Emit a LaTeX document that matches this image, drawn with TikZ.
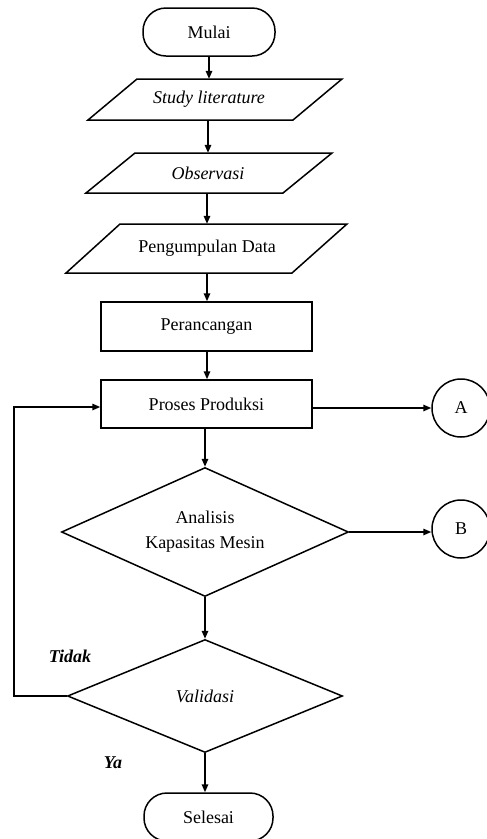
\documentclass[tikz,border=0pt]{standalone}
\usepackage{fontspec}
\setmainfont{Liberation Serif}
\usetikzlibrary{shapes.geometric,arrows.meta}
\begin{document}
\begin{tikzpicture}[x=1pt,y=-1pt,
  every node/.style={font=\fontsize{18}{21}\selectfont, inner sep=0pt},
  arr/.style={line width=1.5pt,-{Triangle[length=8pt,width=6.5pt]}},
  term/.style={draw,line width=1.5pt,rounded corners=23pt,minimum width=#1,minimum height=48pt},
  procbox/.style={draw,line width=1.5pt,minimum width=211pt,minimum height=48pt},
  ghost/.style={draw=none,minimum width=150pt,minimum height=#1},
  para/.style={line width=1.5pt},
  dec/.style={draw,diamond,aspect=2.3,line width=1.5pt},
  conn/.style={draw,circle,line width=1.5pt,minimum size=58pt},
  lab/.style={font=\fontsize{18}{21}\selectfont\bfseries\itshape}
]
\useasboundingbox (0,0) rectangle (487,839);
% terminator start
\node[term=132pt] (mulai) at (209,32) {Mulai};
% parallelograms
\draw[para] (137,79) -- (342,79) -- (293,120) -- (88,120) -- cycle;
\node[ghost=41pt] (study) at (209,99.5) {\itshape Study literature};
\draw[para] (135,153) -- (332,153) -- (283,193) -- (86,193) -- cycle;
\node[ghost=40pt] (obs) at (208,173) {\itshape Observasi};
\draw[para] (120,224) -- (347,224) -- (292,273) -- (66,273) -- cycle;
\node[ghost=49pt] (peng) at (207,248.5) {Pengumpulan Data};
% boxes
\node[procbox,minimum height=49pt] (peran) at (206.5,326.5) {Perancangan};
\node[procbox] (proses) at (206.5,404) {Proses Produksi};
\node[conn] (A) at (461,408) {A};
% decisions
\node[dec,minimum width=287pt,minimum height=129pt,align=center,font=\fontsize{18}{25}\selectfont] (anal) at (205,532) {Analisis\\Kapasitas Mesin};
\node[conn] (B) at (461,529) {B};
\node[dec,minimum width=275pt,minimum height=113pt] (valid) at (205,696) {\itshape Validasi};
\node[term=129pt] (selesai) at (208.5,817) {Selesai};
% labels
\node[lab] (tidak) at (70,656) {Tidak};
\node[lab] (ya) at (113,763) {Ya};
% connectors
\coordinate (loopTop) at (14,407);
\coordinate (perBot) at (207,351);
\draw[arr] (mulai.south) -- (mulai.south |- study.north);
\draw[arr] (study.south -| obs.north) -- (obs.north);
\draw[arr] (obs.south -| peng.north) -- (peng.north);
\draw[arr] (peng.south) -- (peng.south |- peran.north);
\draw[arr] (peran.south -| perBot) -- (proses.north -| perBot);
\draw[arr] (proses.south -| anal.north) -- (anal.north);
\draw[arr] (anal.south) -- (valid.north);
\draw[arr] (valid.south) -- (valid.south |- selesai.north);
\draw[arr] (proses.east |- A.west) -- (A.west);
\draw[arr] (anal.east) -- (B.west |- anal.east);
\draw[arr] (valid.west) -| (loopTop) -- (proses.west |- loopTop);
\end{tikzpicture}
\end{document}
